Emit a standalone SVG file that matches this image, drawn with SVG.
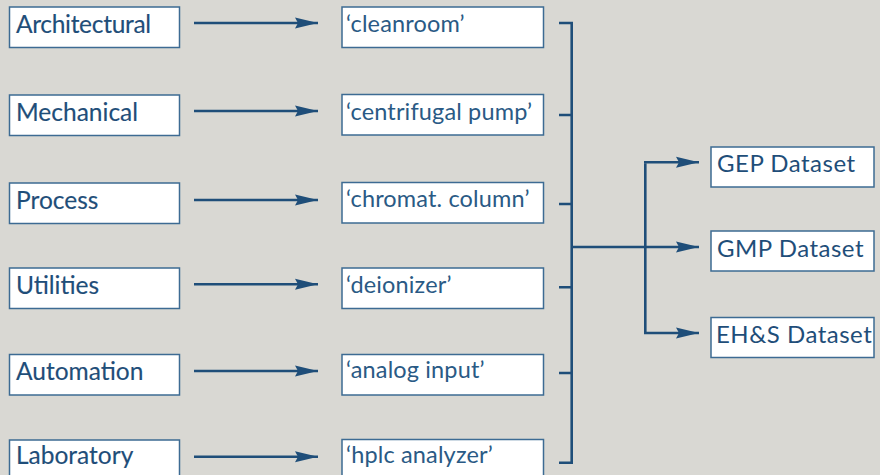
<svg xmlns="http://www.w3.org/2000/svg" width="880" height="475" viewBox="0 0 880 475">
<defs>
<marker id="ah" markerUnits="userSpaceOnUse" markerWidth="24" markerHeight="12" refX="23" refY="6" orient="auto">
<path d="M0,0.5 L23,6 L0,11.5 L3,6 Z" fill="#1f4e79"/>
</marker>
<style>
.box{fill:#ffffff;stroke:#3d6b93;stroke-width:1.5}
.lt{font-family:Lato,"Noto Sans","Liberation Sans",sans-serif;font-size:24.5px;font-weight:400;fill:#1f4e79;stroke:#1f4e79;stroke-width:0.15}
.mt{font-family:Lato,"Noto Sans","Liberation Sans",sans-serif;font-size:23.5px;font-weight:400;fill:#2a5a85;letter-spacing:0.15px}
.rt{font-family:Lato,"Noto Sans","Liberation Sans",sans-serif;font-size:24px;font-weight:400;fill:#1f4e79;letter-spacing:0.5px}
.ln{fill:none;stroke:#1f4e79;stroke-width:2.6}
.ar{fill:none;stroke:#1f4e79;stroke-width:2.6;marker-end:url(#ah)}
</style>
</defs>
<rect width="880" height="475" fill="#d9d8d3"/>
<g id="architectural"><rect class="box" x="9.5" y="7" width="170" height="40.5"/><text class="lt" x="16" y="33" letter-spacing="-0.3">Architectural</text></g>
<g id="mechanical"><rect class="box" x="9.5" y="95" width="170" height="40.5"/><text class="lt" x="16" y="120.5">Mechanical</text></g>
<g id="process"><rect class="box" x="9.5" y="183" width="170" height="40.5"/><text class="lt" x="16" y="209">Process</text></g>
<g id="utilities"><rect class="box" x="9.5" y="268" width="170" height="40.5"/><text class="lt" x="16" y="294">Utilities</text></g>
<g id="automation"><rect class="box" x="9.5" y="354.5" width="170" height="40.5"/><text class="lt" x="16" y="379.5">Automation</text></g>
<g id="laboratory"><rect class="box" x="9.5" y="440" width="170" height="40.5"/><text class="lt" x="16" y="463.5">Laboratory</text></g>

<g id="cleanroom"><rect class="box" x="342" y="7" width="201.5" height="40.5"/><text class="mt" x="346" y="32.3">‘cleanroom’</text></g>
<g id="centrifugal-pump"><rect class="box" x="342" y="94.5" width="201.5" height="40.5"/><text class="mt" x="346" y="120">‘centrifugal pump’</text></g>
<g id="chromat-column"><rect class="box" x="342" y="182.5" width="201.5" height="40.5"/><text class="mt" x="346" y="206.7">‘chromat. column’</text></g>
<g id="deionizer"><rect class="box" x="342" y="268" width="201.5" height="40.5"/><text class="mt" x="346" y="292.7">‘deionizer’</text></g>
<g id="analog-input"><rect class="box" x="342" y="354.5" width="201.5" height="40.5"/><text class="mt" x="346" y="378">‘analog input’</text></g>
<g id="hplc-analyzer"><rect class="box" x="342" y="439.5" width="201.5" height="40.5"/><text class="mt" x="346" y="463">‘hplc analyzer’</text></g>

<g id="gep-dataset"><rect class="box" x="711" y="147" width="163" height="40"/><text class="rt" x="717" y="171.7">GEP Dataset</text></g>
<g id="gmp-dataset"><rect class="box" x="711" y="231" width="163" height="40"/><text class="rt" x="717" y="256.7">GMP Dataset</text></g>
<g id="ehs-dataset"><rect class="box" x="711" y="317.5" width="163" height="40"/><text class="rt" x="716" y="342.7">EH&amp;S Dataset</text></g>

<g id="connectors">
<line class="ar" x1="194" y1="23" x2="318" y2="23"/>
<line class="ar" x1="194" y1="111" x2="318" y2="111"/>
<line class="ar" x1="194" y1="200" x2="318" y2="200"/>
<line class="ar" x1="194" y1="284.3" x2="318" y2="284.3"/>
<line class="ar" x1="194" y1="371" x2="318" y2="371"/>
<line class="ar" x1="194" y1="456.7" x2="318" y2="456.7"/>
<path class="ln" d="M559,23 H571.7 V462.7 H559"/>
<path class="ln" d="M559,115 H571.7 M559,204 H571.7 M559,287.3 H571.7 M559,373 H571.7"/>
<line class="ar" x1="571.7" y1="247" x2="699" y2="247"/>
<path class="ln" d="M645.3,163.3 V333"/>
<line class="ar" x1="644" y1="162.3" x2="699" y2="162.3"/>
<line class="ar" x1="644" y1="333" x2="699" y2="333"/>
</g>
</svg>
